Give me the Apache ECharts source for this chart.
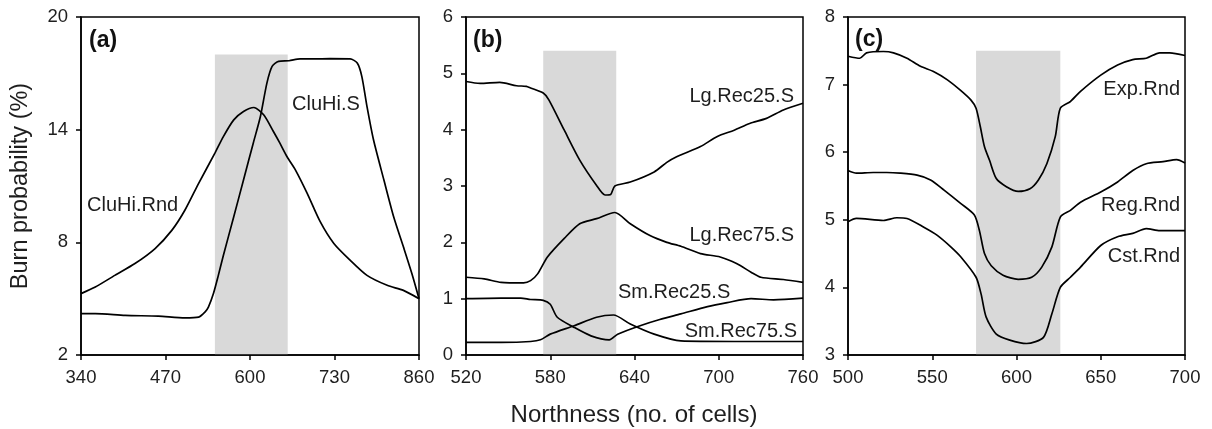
<!DOCTYPE html>
<html>
<head>
<meta charset="utf-8">
<script src="https://cdn.jsdelivr.net/npm/echarts@6/dist/echarts.min.js"></script>
<style>
html,body{margin:0;padding:0;background:#fff;}
#chart{width:1212px;height:429px;}
</style>
</head>
<body>
<div id="chart"></div>
<script>
// ---------- Panel (a) ----------
const cluHiSX = [340,362,408,459,500,521,531,536,544,551,559,575,590,605,616,626,634,644,660,677,698,723,754,765,772,780,790,806,821,836,849,860];
const cluHiSY = [4.2,4.2,4.11,4.07,3.98,4.02,4.3,4.55,5.3,6.2,7.3,9.36,11.32,13.28,14.7,16.48,17.37,17.64,17.67,17.77,17.77,17.78,17.77,17.55,16.84,15.23,13.46,11.32,9.36,7.76,6.34,5.0];
const cluHiRndX = [340,362,392,423,454,480,500,521,546,559,575,590,606,621,636,646,657,670,688,708,729,754,780,811,836,860];
const cluHiRndY = [5.27,5.62,6.24,6.87,7.67,8.65,9.72,11.14,12.75,13.63,14.52,14.97,15.18,14.79,13.9,13.28,12.56,11.85,10.61,9.1,7.94,7.05,6.24,5.71,5.44,5.0];
const bandA = [546, 2, 658, 18];

// ---------- Panel (b) ----------
const lgRec25X = [520,530,544,556,563,566,575,579,590,601,613,619,623,626,637,654,663,670,687,699,711,722,734,746,760];
const lgRec25Y = [4.855,4.82,4.84,4.78,4.77,4.74,4.65,4.53,3.99,3.46,3.01,2.84,2.85,3.0,3.07,3.25,3.42,3.52,3.70,3.88,3.99,4.11,4.2,4.35,4.47];
const lgRec75X = [520,533,545,561,566,571,578,590,601,613,626,637,651,663,673,687,701,713,723,730,746,760];
const lgRec75Y = [1.38,1.35,1.29,1.28,1.32,1.44,1.74,2.07,2.33,2.42,2.53,2.33,2.12,2.0,1.93,1.80,1.74,1.62,1.47,1.38,1.34,1.29];
const smRec25X = [520,545,559,566,575,580,585,597,609,622,628,644,658,673,692,706,723,739,760];
const smRec25Y = [1.0,1.01,1.01,0.985,0.97,0.9,0.67,0.49,0.34,0.27,0.37,0.52,0.63,0.73,0.86,0.93,1.0,0.98,1.01];
const smRec75X = [520,545,566,573,580,597,613,625,637,654,673,711,760];
const smRec75Y = [0.225,0.225,0.24,0.27,0.37,0.52,0.67,0.71,0.55,0.37,0.25,0.24,0.24];
const bandB = [575, 0, 627, 5.4];

// ---------- Panel (c) ----------
const expRndX = [500,507,511,521,527,535,543,551,559,567,573,576,578.5,581,584,588,594,601,608,613,618,623,626,632,638,650,660,669,677,685,691,700];
const expRndY = [7.42,7.39,7.47,7.49,7.47,7.39,7.27,7.19,7.07,6.91,6.77,6.65,6.38,6.08,5.88,5.61,5.49,5.42,5.46,5.59,5.83,6.23,6.65,6.75,6.9,7.14,7.29,7.37,7.39,7.47,7.47,7.43];
const regRndX = [500,505,515,523,531,541,549,557,567,575,578,581,585,592,601,609,615,621,626,632,638,650,660,669,677,687,695,700];
const regRndY = [5.73,5.69,5.70,5.70,5.69,5.66,5.59,5.44,5.24,5.07,4.84,4.50,4.32,4.18,4.12,4.15,4.30,4.60,5.04,5.14,5.26,5.41,5.56,5.73,5.83,5.86,5.89,5.84];
const cstRndX = [500,505,521,529,535,545,553,561,567,576,579,582,588,596,606,616,621,626,632,638,650,660,669,677,685,700];
const cstRndY = [4.97,5.02,4.99,5.03,5.02,4.89,4.77,4.60,4.45,4.15,3.9,3.56,3.31,3.22,3.17,3.26,3.61,4.0,4.15,4.30,4.62,4.75,4.80,4.87,4.84,4.84];
const bandC = [576, 3, 626, 7.5];

// ---------- Axes ----------
const xMin = [340, 520, 500], xMax = [860, 760, 700], xStep = [130, 60, 50];
const yMin = [2, 0, 3], yMax = [20, 6, 8], yStep = [6, 1, 1];

const FONT = "'Liberation Sans', Arial, Helvetica, sans-serif";
const chart = echarts.init(document.getElementById('chart'), null, {renderer: 'canvas'});

function pairs(xs, ys) { return xs.map((x, i) => [x, ys[i]]); }

const gridsPx = [
  {left: 81, top: 17, width: 338, height: 338},
  {left: 466, top: 17, width: 337, height: 338},
  {left: 848, top: 17, width: 337, height: 338}
];

const axisCommon = {
  z: 5,
  axisLine: {show: true, onZero: false, lineStyle: {color: '#000', width: 1.5}},
  axisTick: {show: true, inside: false, length: 5, lineStyle: {color: '#000', width: 1.5}},
  splitLine: {show: false},
  axisLabel: {color: '#1e1e1e', fontSize: 18.5, fontFamily: FONT}
};

const xAxes = [0,1,2].map(i => Object.assign({}, axisCommon, {
  type: 'value', gridIndex: i, min: xMin[i], max: xMax[i], interval: xStep[i],
  axisLabel: Object.assign({}, axisCommon.axisLabel, {margin: 13})
}));
const yAxes = [0,1,2].map(i => Object.assign({}, axisCommon, {
  type: 'value', gridIndex: i, min: yMin[i], max: yMax[i], interval: yStep[i],
  axisLabel: Object.assign({}, axisCommon.axisLabel, {margin: 13})
}));

function line(xs, ys, idx) {
  return {
    type: 'line', xAxisIndex: idx, yAxisIndex: idx, data: pairs(xs, ys),
    showSymbol: false, symbol: 'none', smooth: 0.25, z: 3, silent: true,
    lineStyle: {color: '#000', width: 1.7}
  };
}
function band(b, idx) {
  return {
    type: 'custom', xAxisIndex: idx, yAxisIndex: idx, z: 1, silent: true,
    data: [b],
    encode: {x: [0, 2], y: [1, 3]},
    renderItem: function (params, api) {
      const p0 = api.coord([api.value(0), api.value(1)]);
      const p1 = api.coord([api.value(2), api.value(3)]);
      return {type: 'rect', shape: {x: p0[0], y: p1[1], width: p1[0] - p0[0], height: p0[1] - p1[1]},
              style: {fill: '#d9d9d9'}};
    }
  };
}

function txt(text, x, y, opts) {
  opts = opts || {};
  return {
    type: 'text', x: x, y: y, rotation: opts.rotation || 0, z: 10, silent: true,
    style: {
      text: text, fill: opts.fill || '#1e1e1e',
      font: (opts.weight || 'normal') + ' ' + (opts.size || 20) + 'px ' + FONT,
      align: opts.align || 'left', verticalAlign: 'middle'
    }
  };
}

const option = {
  backgroundColor: '#fff',
  animation: false,
  grid: gridsPx.map(g => Object.assign({show: true, borderColor: '#000', borderWidth: 1.5, backgroundColor: 'transparent', containLabel: false}, g)),
  xAxis: xAxes,
  yAxis: yAxes,
  series: [
    band(bandA, 0), band(bandB, 1), band(bandC, 2),
    line(cluHiSX, cluHiSY, 0), line(cluHiRndX, cluHiRndY, 0),
    line(lgRec25X, lgRec25Y, 1), line(lgRec75X, lgRec75Y, 1),
    line(smRec25X, smRec25Y, 1), line(smRec75X, smRec75Y, 1),
    line(expRndX, expRndY, 2), line(regRndX, regRndY, 2), line(cstRndX, cstRndY, 2)
  ],
  graphic: [
    txt('(a)', 89, 41, {weight: 'bold', size: 23, fill: '#111'}),
    txt('(b)', 473, 41, {weight: 'bold', size: 23, fill: '#111'}),
    txt('(c)', 855, 40, {weight: 'bold', size: 23, fill: '#111'}),
    txt('CluHi.S', 292, 104),
    txt('CluHi.Rnd', 87, 205),
    txt('Lg.Rec25.S', 794, 96, {align: 'right'}),
    txt('Lg.Rec75.S', 794, 235, {align: 'right'}),
    txt('Sm.Rec25.S', 618, 292),
    txt('Sm.Rec75.S', 797, 331, {align: 'right'}),
    txt('Exp.Rnd', 1180, 89, {align: 'right'}),
    txt('Reg.Rnd', 1180, 205, {align: 'right'}),
    txt('Cst.Rnd', 1180, 256, {align: 'right'}),
    txt('Burn probability (%)', 21, 186, {align: 'center', size: 23.5, rotation: Math.PI / 2}),
    txt('Northness (no. of cells)', 634, 415, {align: 'center', size: 24})
  ]
};
chart.setOption(option);
</script>
</body>
</html>
